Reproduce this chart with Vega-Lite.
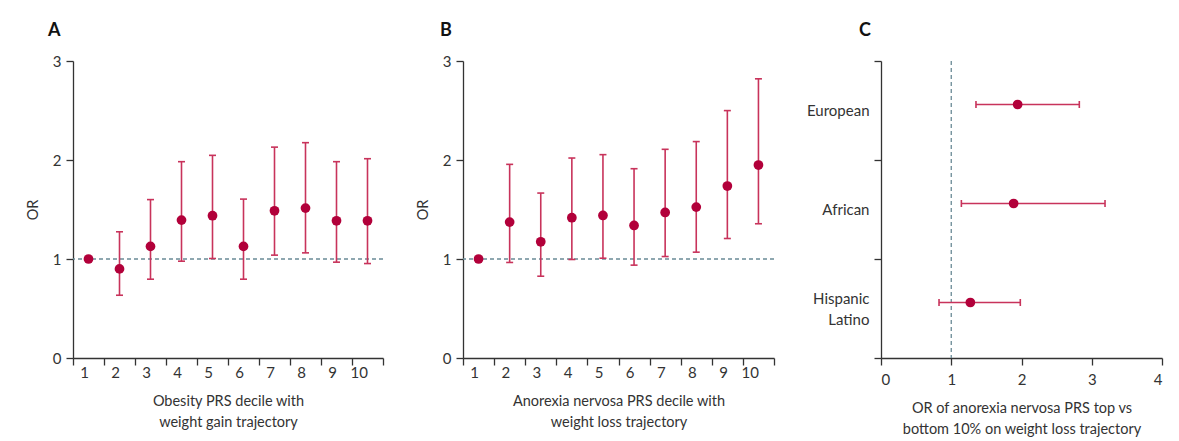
{
  "$schema": "https://vega.github.io/schema/vega-lite/v6.json",
  "padding": {"left": 25, "top": 22, "right": 5, "bottom": 5},
  "background": "white",
  "datasets": {
    "obesity": [
      {"decile": 1, "or": 1.0, "lo": null, "hi": null},
      {"decile": 2, "or": 0.90, "lo": 0.634, "hi": 1.275},
      {"decile": 3, "or": 1.127, "lo": 0.796, "hi": 1.60},
      {"decile": 4, "or": 1.393, "lo": 0.978, "hi": 1.983},
      {"decile": 5, "or": 1.437, "lo": 1.005, "hi": 2.047},
      {"decile": 6, "or": 1.127, "lo": 0.796, "hi": 1.605},
      {"decile": 7, "or": 1.487, "lo": 1.039, "hi": 2.13},
      {"decile": 8, "or": 1.514, "lo": 1.062, "hi": 2.175},
      {"decile": 9, "or": 1.386, "lo": 0.968, "hi": 1.983},
      {"decile": 10, "or": 1.386, "lo": 0.954, "hi": 2.013}
    ],
    "anorexia": [
      {"decile": 1, "or": 1.0, "lo": null, "hi": null},
      {"decile": 2, "or": 1.373, "lo": 0.965, "hi": 1.956},
      {"decile": 3, "or": 1.174, "lo": 0.826, "hi": 1.666},
      {"decile": 4, "or": 1.417, "lo": 0.995, "hi": 2.02},
      {"decile": 5, "or": 1.44, "lo": 1.008, "hi": 2.054},
      {"decile": 6, "or": 1.339, "lo": 0.938, "hi": 1.912},
      {"decile": 7, "or": 1.47, "lo": 1.025, "hi": 2.108},
      {"decile": 8, "or": 1.524, "lo": 1.069, "hi": 2.186},
      {"decile": 9, "or": 1.737, "lo": 1.207, "hi": 2.499},
      {"decile": 10, "or": 1.949, "lo": 1.356, "hi": 2.82}
    ],
    "ancestry": [
      {"group": "European", "or": 1.945, "lo": 1.352, "hi": 2.823},
      {"group": "African", "or": 1.888, "lo": 1.144, "hi": 3.189},
      {"group": "Hispanic Latino", "or": 1.272, "lo": 0.826, "hi": 1.983}
    ],
    "ref": [{"ref": 1}]
  },
  "hconcat": [
    {
      "width": 310,
      "height": 297,
      "title": {"text": "A", "anchor": "start", "frame": "group", "dx": -25, "offset": 14},
      "layer": [
        {
          "data": {"name": "ref"},
          "mark": {"type": "rule", "color": "#6A8A96", "strokeDash": [4, 3], "strokeWidth": 1.3},
          "encoding": {"y": {"field": "ref", "type": "quantitative", "scale": {"domain": [0, 3]}}}
        },
        {
          "data": {"name": "obesity"},
          "transform": [{"filter": "datum.lo != null"}],
          "mark": {"type": "rule", "color": "#C8335B", "strokeWidth": 1.6},
          "encoding": {
            "x": {"field": "decile", "type": "ordinal"},
            "y": {"field": "lo", "type": "quantitative"},
            "y2": {"field": "hi"}
          }
        },
        {
          "data": {"name": "obesity"},
          "transform": [{"filter": "datum.lo != null"}],
          "mark": {"type": "tick", "color": "#C8335B", "thickness": 1.6, "size": 7, "opacity": 1},
          "encoding": {
            "x": {"field": "decile", "type": "ordinal"},
            "y": {"field": "lo", "type": "quantitative"}
          }
        },
        {
          "data": {"name": "obesity"},
          "transform": [{"filter": "datum.lo != null"}],
          "mark": {"type": "tick", "color": "#C8335B", "thickness": 1.6, "size": 7, "opacity": 1},
          "encoding": {
            "x": {"field": "decile", "type": "ordinal"},
            "y": {"field": "hi", "type": "quantitative"}
          }
        },
        {
          "data": {"name": "obesity"},
          "mark": {"type": "circle", "color": "#B2003A", "size": 95, "opacity": 1},
          "encoding": {
            "x": {
              "field": "decile", "type": "ordinal",
              "scale": {"paddingInner": 0, "paddingOuter": 0},
              "axis": {"title": ["Obesity PRS decile with", "weight gain trajectory"], "labelAngle": 0, "tickBand": "extent"}
            },
            "y": {
              "field": "or", "type": "quantitative",
              "scale": {"domain": [0, 3], "nice": false},
              "axis": {"title": "OR", "values": [0, 1, 2, 3], "format": "d"}
            }
          }
        }
      ]
    },
    {
      "width": 311,
      "height": 297,
      "title": {"text": "B", "anchor": "start", "frame": "group", "dx": -23, "offset": 14},
      "layer": [
        {
          "data": {"name": "ref"},
          "mark": {"type": "rule", "color": "#6A8A96", "strokeDash": [4, 3], "strokeWidth": 1.3},
          "encoding": {"y": {"field": "ref", "type": "quantitative", "scale": {"domain": [0, 3]}}}
        },
        {
          "data": {"name": "anorexia"},
          "transform": [{"filter": "datum.lo != null"}],
          "mark": {"type": "rule", "color": "#C8335B", "strokeWidth": 1.6},
          "encoding": {
            "x": {"field": "decile", "type": "ordinal"},
            "y": {"field": "lo", "type": "quantitative"},
            "y2": {"field": "hi"}
          }
        },
        {
          "data": {"name": "anorexia"},
          "transform": [{"filter": "datum.lo != null"}],
          "mark": {"type": "tick", "color": "#C8335B", "thickness": 1.6, "size": 7, "opacity": 1},
          "encoding": {
            "x": {"field": "decile", "type": "ordinal"},
            "y": {"field": "lo", "type": "quantitative"}
          }
        },
        {
          "data": {"name": "anorexia"},
          "transform": [{"filter": "datum.lo != null"}],
          "mark": {"type": "tick", "color": "#C8335B", "thickness": 1.6, "size": 7, "opacity": 1},
          "encoding": {
            "x": {"field": "decile", "type": "ordinal"},
            "y": {"field": "hi", "type": "quantitative"}
          }
        },
        {
          "data": {"name": "anorexia"},
          "mark": {"type": "circle", "color": "#B2003A", "size": 95, "opacity": 1},
          "encoding": {
            "x": {
              "field": "decile", "type": "ordinal",
              "scale": {"paddingInner": 0, "paddingOuter": 0},
              "axis": {"title": ["Anorexia nervosa PRS decile with", "weight loss trajectory"], "labelAngle": 0, "tickBand": "extent"}
            },
            "y": {
              "field": "or", "type": "quantitative",
              "scale": {"domain": [0, 3], "nice": false},
              "axis": {"title": "OR", "values": [0, 1, 2, 3], "format": "d"}
            }
          }
        }
      ]
    },
    {
      "width": 281,
      "height": 297,
      "title": {"text": "C", "anchor": "start", "frame": "group", "dx": -22, "offset": 14},
      "layer": [
        {
          "data": {"name": "ref"},
          "mark": {"type": "rule", "color": "#6A8A96", "strokeDash": [4, 3], "strokeWidth": 1.3},
          "encoding": {"x": {"field": "ref", "type": "quantitative", "scale": {"domain": [0, 4]}}}
        },
        {
          "data": {"name": "ancestry"},
          "mark": {"type": "rule", "color": "#C8335B", "strokeWidth": 1.6, "yOffset": -6},
          "encoding": {
            "y": {"field": "group", "type": "nominal", "sort": ["European", "African", "Hispanic Latino"]},
            "x": {"field": "lo", "type": "quantitative"},
            "x2": {"field": "hi"}
          }
        },
        {
          "data": {"name": "ancestry"},
          "mark": {"type": "tick", "color": "#C8335B", "thickness": 1.6, "size": 7, "opacity": 1, "yOffset": -6},
          "encoding": {
            "y": {"field": "group", "type": "nominal", "sort": ["European", "African", "Hispanic Latino"]},
            "x": {"field": "lo", "type": "quantitative"}
          }
        },
        {
          "data": {"name": "ancestry"},
          "mark": {"type": "tick", "color": "#C8335B", "thickness": 1.6, "size": 7, "opacity": 1, "yOffset": -6},
          "encoding": {
            "y": {"field": "group", "type": "nominal", "sort": ["European", "African", "Hispanic Latino"]},
            "x": {"field": "hi", "type": "quantitative"}
          }
        },
        {
          "data": {"name": "ancestry"},
          "mark": {"type": "circle", "color": "#B2003A", "size": 95, "opacity": 1, "yOffset": -6},
          "encoding": {
            "y": {
              "field": "group", "type": "nominal",
              "sort": ["European", "African", "Hispanic Latino"],
              "scale": {"paddingInner": 0, "paddingOuter": 0},
              "axis": {
                "title": null, "tickBand": "extent", "labelAlign": "right", "labelLineHeight": 21,
                "labelOffset": {"condition": {"test": "datum.value == 'Hispanic Latino'", "value": -10}, "value": 0},
                "labelExpr": "datum.value == 'Hispanic Latino' ? ['Hispanic', 'Latino'] : datum.label"
              }
            },
            "x": {
              "field": "or", "type": "quantitative",
              "scale": {"domain": [0, 4], "nice": false},
              "axis": {"title": ["OR of anorexia nervosa PRS top vs", "bottom 10% on weight loss trajectory"], "values": [0, 1, 2, 3, 4], "format": "d"}
            }
          }
        }
      ]
    }
  ],
  "spacing": 31,
  "config": {
    "font": "Lato",
    "view": {"stroke": null},
    "title": {"fontSize": 18, "fontWeight": "bold", "color": "#111", "font": "Lato"},
    "axis": {
      "grid": false,
      "domainColor": "#333",
      "domainWidth": 1.3,
      "tickColor": "#333",
      "tickWidth": 1.3,
      "tickSize": 7,
      "labelColor": "#333",
      "labelFontSize": 15,
      "labelFont": "Lato",
      "labelPadding": 5,
      "titleColor": "#333",
      "titleFontSize": 14.5,
      "titleFont": "Lato",
      "titleFontWeight": "normal",
      "titleLineHeight": 21
    },
    "axisY": {"titlePadding": 12},
    "axisX": {"titlePadding": 14, "labelPadding": 7}
  }
}
